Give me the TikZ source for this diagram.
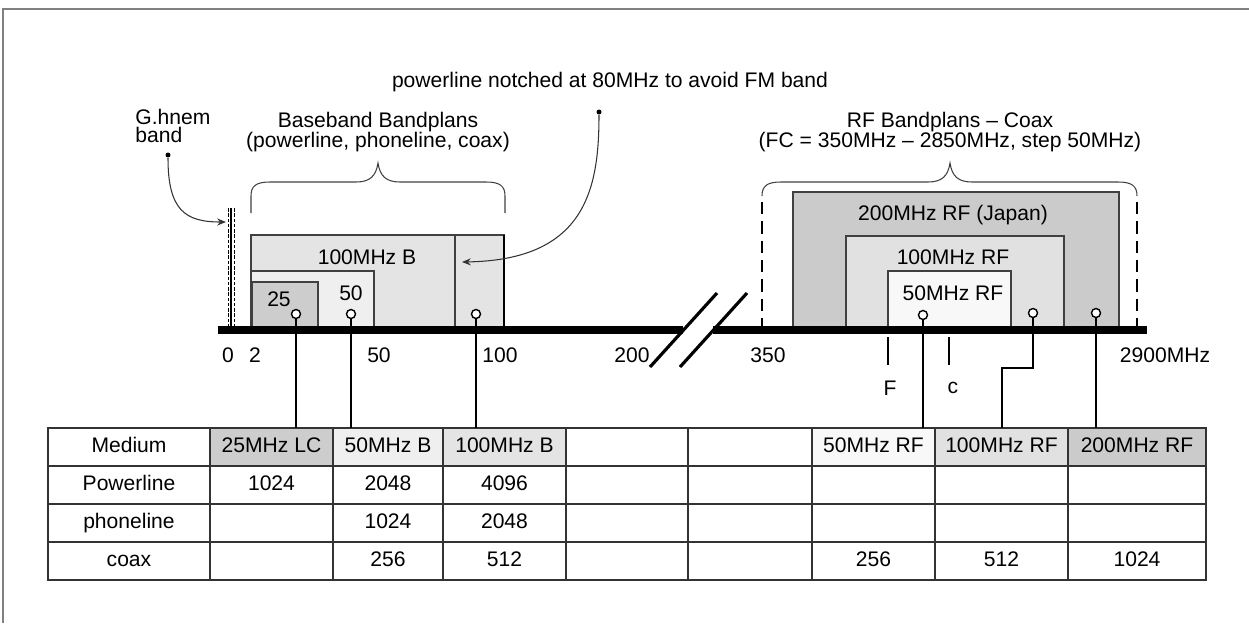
\documentclass[tikz,border=0pt]{standalone}
\usepackage{fontspec}
\setmainfont{Liberation Sans}
\usetikzlibrary{arrows.meta}
\definecolor{bbA}{HTML}{E4E4E4}
\definecolor{bbB}{HTML}{EFEFEF}
\definecolor{bbC}{HTML}{CDCDCD}
\definecolor{rfA}{HTML}{CBCBCB}
\definecolor{rfB}{HTML}{E1E1E1}
\definecolor{rfC}{HTML}{F8F8F8}
\tikzset{every path/.style={line width=0.7pt}}
\tikzset{
  lbl/.style={font=\fontsize{12}{11.5}\selectfont, inner sep=1pt},
  box/.style={draw=black!75, line width=0.6pt},
  cell/.style={draw=black!80, line width=0.6pt, font=\fontsize{12}{12}\selectfont,
    minimum height=0.76cm, inner sep=0pt, outer sep=0pt, text height=8.6pt, text depth=2.4pt},
  tap/.style={circle, draw, fill=white, minimum size=0.18cm, inner sep=0pt, line width=0.8pt},
  feed/.style={line width=0.85pt},
  brace/.style={draw=black!75, line width=0.6pt},
  dot/.style={circle, fill, minimum size=0.1cm, inner sep=0pt},
  callout/.style={draw=black!80, line width=0.6pt, -{Stealth[length=5pt,width=4pt]}},
}

\begin{document}
\begin{tikzpicture}[x=0.02cm,y=-0.02cm]
  \useasboundingbox (0,0) rectangle (1249,623);
  \draw[gray,line width=1.2pt] (3,623) -- (3,9) -- (1249,9);

  % baseband bandplans
  \draw[box,fill=bbA] (251,235) rectangle (504,327);
  \draw[box] (455,235) -- (455,327);
  \draw[box,fill=bbB] (251,271) rectangle (374,327);
  \draw[box,fill=bbC] (252,282) rectangle (318,327);
  \draw[line width=1.4pt] (504,235) -- (504,327);
  \node[lbl] (l100b) at (367,257) {100MHz B};
  \node[lbl] (l50b) at (351,293) {50};
  \node[lbl] (l25) at (279,299) {25};

  % RF bandplans
  \draw[box,fill=rfA] (793,192) rectangle (1119,327);
  \draw[box,fill=rfB] (846,236) rectangle (1064,327);
  \draw[box,fill=rfC] (888,271) rectangle (1011,327);
  \node[lbl] (lr200) at (953,215) {200MHz RF (Japan)};
  \node[lbl] (lr100) at (953,257) {100MHz RF};
  \node[lbl] (lr50) at (953,293) {50MHz RF};

  % G.hnem band marker
  \draw[dashed,line width=0.4pt,dash pattern=on 2pt off 1pt] (228,208) -- (228,327);
  \draw[line width=1.3pt] (231,208) -- (231,327);
  \draw[dashed,line width=0.4pt,dash pattern=on 2pt off 1pt] (234,208) -- (234,327);

  % frequency axis
  \draw[line width=4pt] (218,330) -- (683,330);
  \draw[line width=4pt] (713,330) -- (1147,330);
  \draw[line width=1.8pt] (650,367) -- (717,293);
  \draw[line width=1.8pt] (680,367) -- (747,293);
  \foreach \x/\t in {228/0, 255/2, 379/50, 500/100, 632/200, 768/350}
    \node[lbl] (t\t) at (\x,355) {\t};
  \node[lbl] (t2900) at (1165,355) {2900MHz};
  \draw[feed] (888,337) -- (888,365);
  \draw[feed] (949,337) -- (949,365);
  \node[lbl] (lF) at (890,388) {F};
  \node[lbl] (lc) at (953,388) {c};

  % braces
  \draw[brace] (251,213) -- (251,196) .. controls (251,186) and (256,182) .. (270,182)
    -- (356,182) .. controls (370,182) and (376,176) .. (378,163)
    .. controls (380,176) and (386,182) .. (400,182) -- (486,182)
    .. controls (500,182) and (505,186) .. (505,196) -- (505,213);
  \draw[brace] (762,196) .. controls (762,186) and (767,182) .. (781,182)
    -- (928,182) .. controls (942,182) and (948,176) .. (950,163)
    .. controls (952,176) and (958,182) .. (972,182) -- (1118,182)
    .. controls (1132,182) and (1137,186) .. (1137,196);
  \draw[line width=0.9pt,dash pattern=on 7pt off 4pt] (762,202) -- (762,330);
  \draw[line width=0.9pt,dash pattern=on 7pt off 4pt] (1137,202) -- (1137,327);
  \node[lbl,align=center] (tbase) at (378,132) {Baseband Bandplans\\(powerline, phoneline, coax)};
  \node[lbl,align=center] (trf) at (950,132) {RF Bandplans -- Coax\\(FC = 350MHz -- 2850MHz, step 50MHz)};

  % callouts
  \node[lbl] (tnotch) at (610,82) {powerline notched at 80MHz to avoid FM band};
  \node[lbl,align=left,anchor=west,font=\fontsize{12}{10.5}\selectfont] (tghn) at (133,126) {G.hnem\\band};
  \node[dot] (gdot) at (168,155) {};
  \node[dot] (ndot) at (599,112) {};
  \coordinate (gtip) at (226,222);
  \coordinate (ntip) at (462,262);
  \draw[callout] (gdot) .. controls (168,210) and (185,222) .. (gtip);
  \draw[callout] (ndot) .. controls (599,190) and (585,260) .. (ntip);

  % table
  \foreach \cx/\cw/\nm/\fl/\t in {129/3.24/hMed/white/Medium, 271.5/2.46/h25/bbC/25MHz LC,
      388/2.2/h50/bbB/50MHz B, 504.5/2.46/h100/bbA/100MHz B, 627/2.44/hE1/white/{},
      750/2.48/hE2/white/{}, 873.5/2.46/hR50/rfC/50MHz RF, 1001.5/2.66/hR100/rfB/100MHz RF,
      1137/2.76/hR200/rfA/200MHz RF}
    \node[cell,minimum width=\cw cm,fill=\fl] (\nm) at (\cx,447) {\t};
  \foreach \cx/\cw/\a/\b/\c [count=\i] in {129/3.24/Powerline/phoneline/coax,
      271.5/2.46/1024/{}/{}, 388/2.2/2048/1024/256, 504.5/2.46/4096/2048/512,
      627/2.44/{}/{}/{}, 750/2.48/{}/{}/{}, 873.5/2.46/{}/{}/256,
      1001.5/2.66/{}/{}/512, 1137/2.76/{}/{}/1024}
  {
    \node[cell,minimum width=\cw cm] (pw\i) at (\cx,485) {\a};
    \node[cell,minimum width=\cw cm] (ph\i) at (\cx,523) {\b};
    \node[cell,minimum width=\cw cm] (cx\i) at (\cx,561) {\c};
  }

  % taps and feeds to the table
  \node[tap] (m25) at (296,314) {};
  \node[tap] (m50) at (351,314) {};
  \node[tap] (m100) at (476,314) {};
  \node[tap] (mr50) at (923,315) {};
  \node[tap] (mr100) at (1033,313) {};
  \node[tap] (mr200) at (1096,313) {};
  \coordinate (kink) at (1002,368);
  \draw[feed] (m25) -- (m25 |- h25.north);
  \draw[feed] (m50) -- (m50 |- h50.north);
  \draw[feed] (m100) -- (m100 |- h100.north);
  \draw[feed] (mr50) -- (mr50 |- hR50.north);
  \draw[feed] (mr100) |- (kink) -- (kink |- hR100.north);
  \draw[feed] (mr200) -- (mr200 |- hR200.north);
\end{tikzpicture}
\end{document}
